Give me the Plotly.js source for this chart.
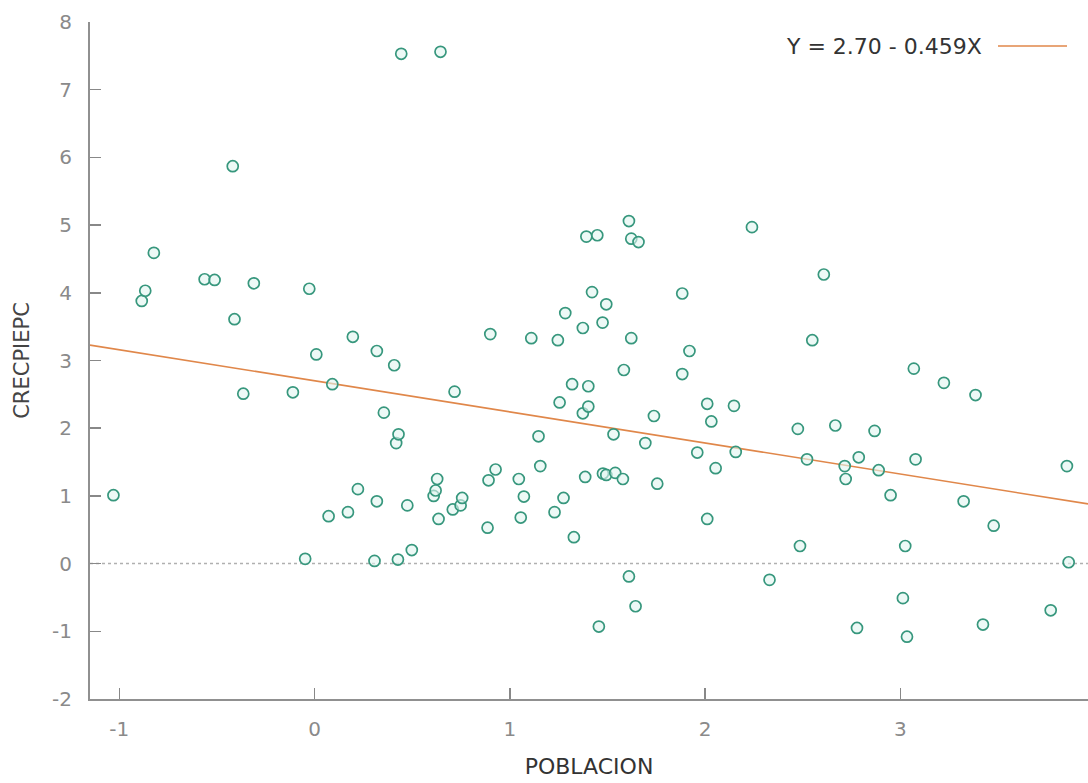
<!DOCTYPE html>
<html>
<head>
<meta charset="utf-8">
<script src="https://cdn.plot.ly/plotly-3.0.1.min.js"></script>
<style>html,body{margin:0;padding:0;background:#fff;}#chart{width:1088px;height:783px;}</style>
</head>
<body>
<div id="chart"></div>
<script>
const poblacion = [-1.03,-0.885,-0.867,-0.823,-0.563,-0.512,-0.419,-0.410,-0.365,-0.311,-0.111,-0.048,-0.027,0.009,0.072,0.091,0.171,0.196,0.222,0.307,0.319,0.319,0.355,0.408,0.418,0.427,0.430,0.444,0.475,0.498,0.610,0.620,0.628,0.635,0.645,0.708,0.717,0.748,0.756,0.886,0.891,0.900,0.927,1.046,1.056,1.072,1.110,1.147,1.156,1.229,1.246,1.255,1.275,1.284,1.319,1.328,1.374,1.374,1.386,1.392,1.402,1.402,1.421,1.448,1.456,1.475,1.477,1.494,1.494,1.531,1.540,1.579,1.584,1.610,1.610,1.622,1.622,1.644,1.659,1.694,1.738,1.755,1.883,1.883,1.920,1.960,2.011,2.011,2.032,2.054,2.148,2.157,2.240,2.330,2.475,2.486,2.522,2.549,2.608,2.667,2.715,2.720,2.778,2.787,2.868,2.889,2.950,3.013,3.025,3.034,3.069,3.078,3.223,3.324,3.385,3.423,3.478,3.770,3.853,3.862];
const crecpiepc = [1.01,3.88,4.03,4.59,4.20,4.19,5.87,3.61,2.51,4.14,2.53,0.07,4.06,3.09,0.70,2.65,0.76,3.35,1.10,0.04,3.14,0.92,2.23,2.93,1.78,0.06,1.91,7.53,0.86,0.20,1.00,1.08,1.25,0.66,7.56,0.80,2.54,0.86,0.97,0.53,1.23,3.39,1.39,1.25,0.68,0.99,3.33,1.88,1.44,0.76,3.30,2.38,0.97,3.70,2.65,0.39,3.48,2.22,1.28,4.83,2.62,2.32,4.01,4.85,-0.93,3.56,1.33,3.83,1.31,1.91,1.34,1.25,2.86,5.06,-0.19,4.80,3.33,-0.63,4.75,1.78,2.18,1.18,3.99,2.80,3.14,1.64,2.36,0.66,2.10,1.41,2.33,1.65,4.97,-0.24,1.99,0.26,1.54,3.30,4.27,2.04,1.44,1.25,-0.95,1.57,1.96,1.38,1.01,-0.51,0.26,-1.08,2.88,1.54,2.67,0.92,2.49,-0.90,0.56,-0.69,1.44,0.02];
const intercept = 2.70;
const slope = -0.459;
const fitLabel = "Y = 2.70 - 0.459X";
const xRange = [-1.150, 3.961];
const yRange = [-2, 8];
const xTickVals = [-1, 0, 1, 2, 3];
const xTickText = ["-1", "0", "1", "2", "3"];
const yTickVals = [-2, -1, 0, 1, 2, 3, 4, 5, 6, 7, 8];
const yTickText = ["-2", "-1", "0", "1", "2", "3", "4", "5", "6", "7", "8"];

const fitX = xRange.slice();
const fitY = fitX.map(v => intercept + slope * v);

const FONT = "DejaVu Sans, Verdana, sans-serif";
const teal = "#37977d";
const orange = "#e0874a";

const traces = [
  {
    x: fitX, y: fitY, mode: "lines", type: "scatter",
    line: {color: orange, width: 1.6}, hoverinfo: "skip", showlegend: false
  },
  {
    x: poblacion, y: crecpiepc, mode: "markers", type: "scatter",
    marker: {symbol: "circle", size: 11, color: "rgba(225,245,240,0.6)", line: {color: teal, width: 1.7}},
    showlegend: false
  }
];

const layout = {
  width: 1088, height: 783,
  margin: {l: 90, r: 0, t: 22, b: 84, pad: 0},
  paper_bgcolor: "#ffffff", plot_bgcolor: "#ffffff",
  showlegend: false,
  font: {family: FONT, color: "#888888", size: 20},
  xaxis: {
    range: xRange, tickvals: xTickVals, ticktext: xTickText,
    ticks: "inside", ticklen: 11, tickwidth: 1.5, tickcolor: "#888888",
    showline: true, linecolor: "#909090", linewidth: 2,
    showgrid: false, zeroline: false, mirror: false,
    tickfont: {family: FONT, size: 20, color: "#8a8a8a"},
    ticklabelstandoff: 11,
    title: {text: "POBLACION", font: {family: FONT, size: 22, color: "#333333"}, standoff: 19}
  },
  yaxis: {
    range: yRange, tickvals: yTickVals, ticktext: yTickText,
    ticks: "inside", ticklen: 11, tickwidth: 1.5, tickcolor: "#888888",
    showline: true, linecolor: "#909090", linewidth: 2,
    showgrid: false, zeroline: false, mirror: false,
    tickfont: {family: FONT, size: 20, color: "#8a8a8a"},
    ticklabelstandoff: 12,
    title: {text: "CRECPIEPC", font: {family: FONT, size: 21, color: "#444444"}, standoff: 17}
  },
  shapes: [
    {type: "line", xref: "paper", yref: "y", x0: 0, x1: 1, y0: 0, y1: 0,
     line: {color: "#b0b0b0", width: 1.5, dash: "dot"}, layer: "below"},
    {type: "line", xref: "paper", yref: "paper", x0: (998 - 90) / 998, x1: (1067 - 90) / 998, y0: 0.9645, y1: 0.9645,
     line: {color: orange, width: 1.6}}
  ],
  annotations: [
    {xref: "paper", yref: "paper", x: (984 - 90) / 998, y: 0.9645, xanchor: "right", yanchor: "middle",
     text: fitLabel, showarrow: false, font: {family: FONT, size: 22, color: "#333333"}}
  ]
};

Plotly.newPlot("chart", traces, layout, {displayModeBar: false, staticPlot: true});
</script>
</body>
</html>
